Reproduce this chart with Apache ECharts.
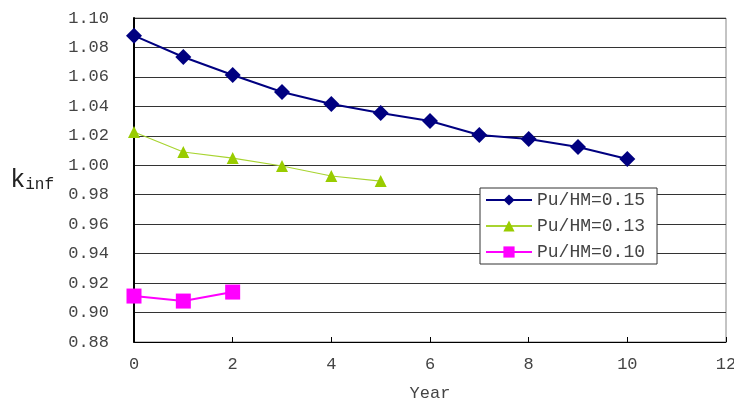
<!DOCTYPE html>
<html><head><meta charset="utf-8">
<script src="https://cdn.jsdelivr.net/npm/echarts@6/dist/echarts.min.js"></script>
<style>html,body{margin:0;padding:0;background:#fff}#c{width:734px;height:401px}</style>
</head><body><div id="c"></div>
<script>
var years15 = [0,1,2,3,4,5,6,7,8,9,10];
var kinf15 = [1.088,1.0735,1.0613,1.0498,1.0416,1.0355,1.0301,1.0206,1.0178,1.0124,1.0043];
var years13 = [0,1,2,3,4,5];
var kinf13 = [1.0226,1.009,1.0049,0.9995,0.9927,0.9893];
var years10 = [0,1,2];
var kinf10 = [0.9112,0.9078,0.9139];
var seriesNames = ['Pu/HM=0.15','Pu/HM=0.13','Pu/HM=0.10'];

function pairs(xs, ys){ return xs.map(function(x,i){return [x, ys[i]];}); }
var F = '"Liberation Mono", "DejaVu Sans Mono", monospace';
var chart = echarts.init(document.getElementById('c'));
chart.setOption({
  animation:false,
  backgroundColor:'#fff',
  grid:{left:134,right:8,top:18,bottom:59,show:true,borderColor:'#888',borderWidth:1,containLabel:false,outerBoundsMode:'none'},
  legend:{
    data:seriesNames, orient:'vertical', left:480, top:188, width:178,
    backgroundColor:'#fff', borderColor:'#333', borderWidth:1, padding:[3,12,3,5],
    itemGap:8, itemWidth:46, itemHeight:14,
    textStyle:{fontFamily:F,fontSize:18,color:'#444'}
  },
  xAxis:{
    type:'value', min:0, max:12, interval:2,
    name:'Year', nameLocation:'middle', nameGap:43,
    nameTextStyle:{fontFamily:F,fontSize:17,color:'#444'},
    axisLine:{onZero:false,lineStyle:{color:'#000',width:1}},
    axisTick:{inside:true,length:5,lineStyle:{color:'#000'}},
    axisLabel:{fontFamily:F,fontSize:17,color:'#444',margin:14},
    splitLine:{show:false}
  },
  yAxis:{
    type:'value', min:0.88, max:1.10, interval:0.02,
    name:'{k|k}{s|inf}', nameLocation:'middle', nameGap:80, nameRotate:0,
    nameTextStyle:{rich:{k:{fontFamily:F,fontSize:25,color:'#222',verticalAlign:'bottom'},s:{fontFamily:F,fontSize:16,color:'#222',padding:[10,0,0,0]}}},
    axisLine:{show:true,lineStyle:{color:'#000',width:2}},
    axisTick:{show:false},
    axisLabel:{fontFamily:F,fontSize:17,color:'#444',margin:25,formatter:function(v){return v.toFixed(2);}},
    splitLine:{lineStyle:{color:'#333',width:1}}
  },
  series:[
    {name:seriesNames[0],type:'line',data:pairs(years15,kinf15),symbol:'diamond',symbolSize:16,
     lineStyle:{color:'#000080',width:2},itemStyle:{color:'#000080'}},
    {name:seriesNames[1],type:'line',data:pairs(years13,kinf13),symbol:'triangle',symbolSize:12,
     lineStyle:{color:'#a8d430',width:1.2},itemStyle:{color:'#99cc00'}},
    {name:seriesNames[2],type:'line',data:pairs(years10,kinf10),symbol:'rect',symbolSize:15,
     lineStyle:{color:'#ff00ff',width:2},itemStyle:{color:'#ff00ff'}}
  ]
});
</script></body></html>
